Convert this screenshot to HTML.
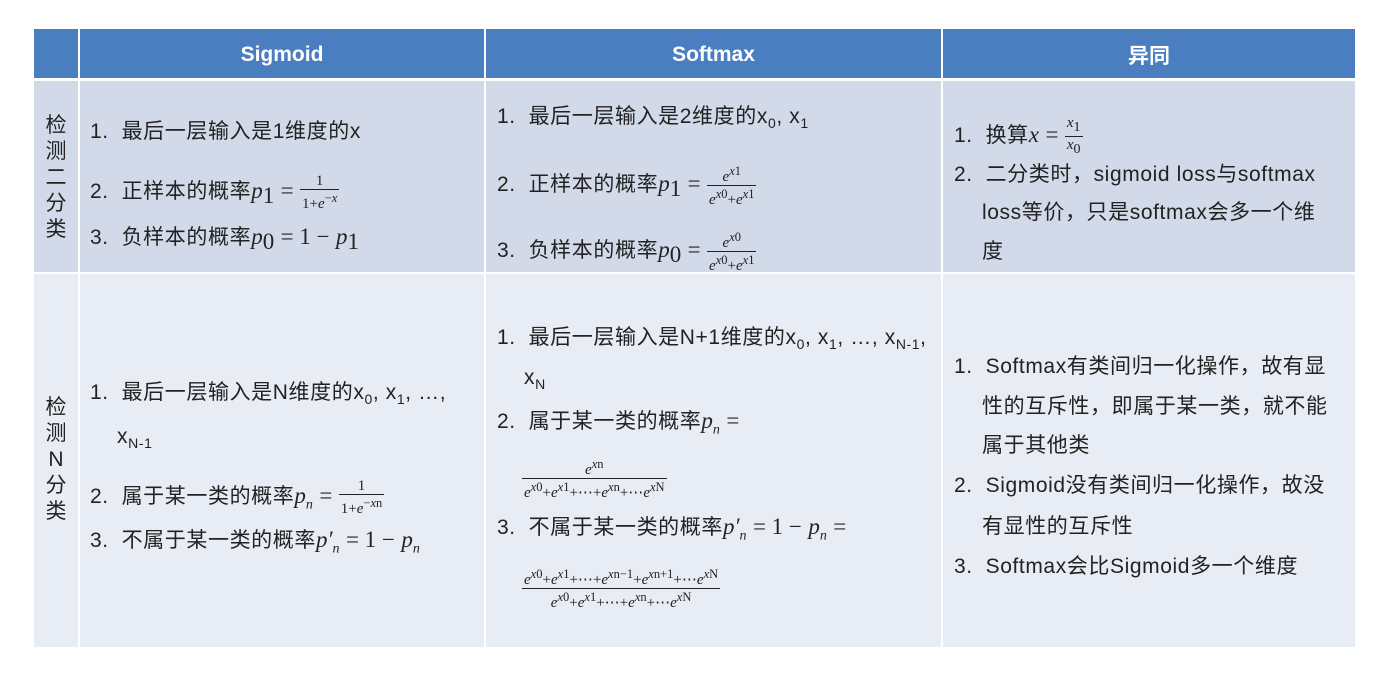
<!DOCTYPE html>
<html><head><meta charset="utf-8"><style>
body{margin:0;width:1382px;height:679px;background:#fff;position:relative;overflow:hidden;font-family:"Liberation Sans","Noto Sans CJK SC",sans-serif;color:#222}
.c{position:absolute}
.h{background:#4a7ec1;color:#fff;font-weight:bold;font-size:21px;display:flex;align-items:center;justify-content:center;padding-top:3px;box-sizing:border-box}
.r1{background:#d2dae9}.r2{background:#e8ecf4}
.t{position:absolute;font-size:21px;white-space:nowrap;line-height:24px;letter-spacing:0.6px}
.m{font-family:"Liberation Serif","DejaVu Serif",serif;font-style:italic;font-size:23px;letter-spacing:0}
.n{font-family:"Liberation Serif",serif;font-size:23px;letter-spacing:0}
.fr{display:inline-block;vertical-align:middle;text-align:center;font-family:"Liberation Serif",serif;font-size:15px;line-height:16px;letter-spacing:0}
.fr>span{display:block;padding:0 2px}
.fr>span.d{border-top:1px solid #222}
.v{position:absolute;font-size:21px;width:44px;text-align:center;line-height:26px}
sub{font-size:14px}
</style></head><body>
<div class="c h" style="left:34px;top:29px;width:44px;height:49px"></div>
<div class="c h" style="left:80px;top:29px;width:404px;height:49px">Sigmoid</div>
<div class="c h" style="left:486px;top:29px;width:455px;height:49px">Softmax</div>
<div class="c h" style="left:943px;top:29px;width:412px;height:49px">异同</div>
<div class="c r1" style="left:34px;top:81px;width:44px;height:191px"></div>
<div class="c r1" style="left:80px;top:81px;width:404px;height:191px"></div>
<div class="c r1" style="left:486px;top:81px;width:455px;height:191px"></div>
<div class="c r1" style="left:943px;top:81px;width:412px;height:191px"></div>
<div class="c r2" style="left:34px;top:274px;width:44px;height:373px"></div>
<div class="c r2" style="left:80px;top:274px;width:404px;height:373px"></div>
<div class="c r2" style="left:486px;top:274px;width:455px;height:373px"></div>
<div class="c r2" style="left:943px;top:274px;width:412px;height:373px"></div>

<div class="v" style="left:34px;top:113px">检<br>测<br>二<br>分<br>类</div>
<div class="v" style="left:34px;top:395px">检<br>测<br>N<br>分<br>类</div>

<div class="t" style="left:90px;top:120px">1.&nbsp; 最后一层输入是1维度的x</div>
<div class="t" style="left:90px;top:173px">2.&nbsp; 正样本的概率<span class="m">p</span><sub class="n">1</sub> <span class="n">=</span> <span class="fr"><span>1</span><span class="d">1+<i>e</i><sup>−<i>x</i></sup></span></span></div>
<div class="t" style="left:90px;top:225px">3.&nbsp; 负样本的概率<span class="m">p</span><sub class="n">0</sub> <span class="n">= 1 −</span> <span class="m">p</span><sub class="n">1</sub></div>

<div class="t" style="left:497px;top:105px">1.&nbsp; 最后一层输入是2维度的x<sub>0</sub>, x<sub>1</sub></div>
<div class="t" style="left:497px;top:163px">2.&nbsp; 正样本的概率<span class="m">p</span><sub class="n">1</sub> <span class="n">=</span> <span class="fr"><span><i>e</i><sup><i>x</i>1</sup></span><span class="d"><i>e</i><sup><i>x</i>0</sup>+<i>e</i><sup><i>x</i>1</sup></span></span></div>
<div class="t" style="left:497px;top:229px">3.&nbsp; 负样本的概率<span class="m">p</span><sub class="n">0</sub> <span class="n">=</span> <span class="fr"><span><i>e</i><sup><i>x</i>0</sup></span><span class="d"><i>e</i><sup><i>x</i>0</sup>+<i>e</i><sup><i>x</i>1</sup></span></span></div>

<div class="t" style="left:954px;top:115px">1.&nbsp; 换算<span class="m">x</span> <span class="n">=</span> <span class="fr"><span><i>x</i><sub>1</sub></span><span class="d"><i>x</i><sub>0</sub></span></span></div>
<div class="t" style="left:954px;top:163px">2.&nbsp; 二分类时，sigmoid loss与softmax</div>
<div class="t" style="left:982px;top:201px">loss等价，只是softmax会多一个维</div>
<div class="t" style="left:982px;top:240px">度</div>

<div class="t" style="left:90px;top:381px">1.&nbsp; 最后一层输入是N维度的x<sub>0</sub>, x<sub>1</sub>, …,</div>
<div class="t" style="left:117px;top:425px">x<sub>N-1</sub></div>
<div class="t" style="left:90px;top:478px">2.&nbsp; 属于某一类的概率<span class="m">p<sub>n</sub></span> <span class="n">=</span> <span class="fr"><span>1</span><span class="d">1+<i>e</i><sup>−<i>x</i>n</sup></span></span></div>
<div class="t" style="left:90px;top:528px">3.&nbsp; 不属于某一类的概率<span class="m">p′<sub>n</sub></span> <span class="n">= 1 −</span> <span class="m">p<sub>n</sub></span></div>

<div class="t" style="left:497px;top:326px">1.&nbsp; 最后一层输入是N+1维度的x<sub>0</sub>, x<sub>1</sub>, …, x<sub>N-1</sub>,</div>
<div class="t" style="left:524px;top:366px">x<sub>N</sub></div>
<div class="t" style="left:497px;top:409px">2.&nbsp; 属于某一类的概率<span class="m">p<sub>n</sub></span> <span class="n">=</span></div>
<div class="t" style="left:522px;top:456px"><span class="fr"><span><i>e</i><sup><i>x</i>n</sup></span><span class="d"><i>e</i><sup><i>x</i>0</sup>+<i>e</i><sup><i>x</i>1</sup>+⋯+<i>e</i><sup><i>x</i>n</sup>+⋯<i>e</i><sup><i>x</i>N</sup></span></span></div>
<div class="t" style="left:497px;top:515px">3.&nbsp; 不属于某一类的概率<span class="m">p′<sub>n</sub></span> <span class="n">= 1 −</span> <span class="m">p<sub>n</sub></span> <span class="n">=</span></div>
<div class="t" style="left:522px;top:566px"><span class="fr"><span><i>e</i><sup><i>x</i>0</sup>+<i>e</i><sup><i>x</i>1</sup>+⋯+<i>e</i><sup><i>x</i>n−1</sup>+<i>e</i><sup><i>x</i>n+1</sup>+⋯<i>e</i><sup><i>x</i>N</sup></span><span class="d"><i>e</i><sup><i>x</i>0</sup>+<i>e</i><sup><i>x</i>1</sup>+⋯+<i>e</i><sup><i>x</i>n</sup>+⋯<i>e</i><sup><i>x</i>N</sup></span></span></div>

<div class="t" style="left:954px;top:355px">1.&nbsp; Softmax有类间归一化操作，故有显</div>
<div class="t" style="left:982px;top:395px">性的互斥性，即属于某一类，就不能</div>
<div class="t" style="left:982px;top:434px">属于其他类</div>
<div class="t" style="left:954px;top:474px">2.&nbsp; Sigmoid没有类间归一化操作，故没</div>
<div class="t" style="left:982px;top:515px">有显性的互斥性</div>
<div class="t" style="left:954px;top:555px">3.&nbsp; Softmax会比Sigmoid多一个维度</div>
</body></html>
